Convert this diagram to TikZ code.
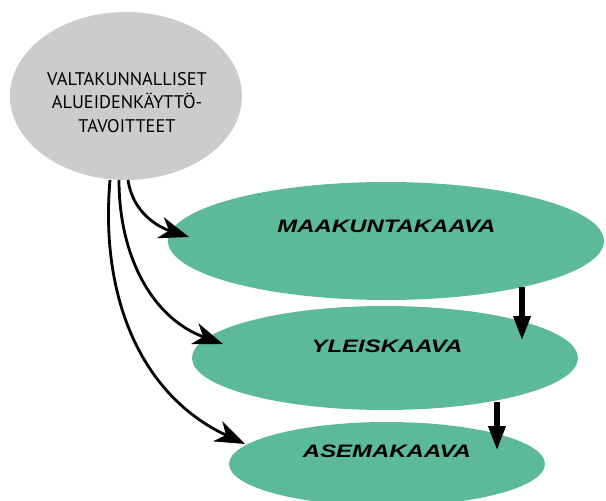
\documentclass[tikz,border=0pt]{standalone}
\usepackage{fontspec}
\setmainfont{Liberation Sans}
\newfontfamily\greyfont{PT Sans}
\usetikzlibrary{shapes.geometric,arrows.meta}
\definecolor{plangreen}{HTML}{5CBA98}
\definecolor{goalgrey}{HTML}{CCCCCC}
\tikzset{
  greenell/.style={ellipse,fill=plangreen,draw=none,inner sep=0pt},
  greyell/.style={ellipse,fill=goalgrey,draw=none,inner sep=0pt},
  plantext/.style={font=\fontsize{18}{18}\selectfont\bfseries\itshape,inner sep=0pt},
  goaltext/.style={font=\greyfont\fontsize{18.3}{23.5}\selectfont,align=center,inner sep=0pt},
  curvearrow/.style={line width=2.8pt,-{Stealth[length=30pt,width=22pt,inset=9pt]}},
  downarrow/.style={line width=6.5pt,-{Triangle[length=25pt,width=16pt]}}
}
\begin{document}
\begin{tikzpicture}[x=1pt,y=-1pt]
\useasboundingbox (0,0) rectangle (606,501);
\node[greyell,minimum width=232pt,minimum height=168pt] (g) at (126,96) {};
\node[goaltext] (gt) at (127,102.5) {VALTAKUNNALLISET\\ALUEIDENKÄYTTÖ-\\TAVOITTEET};
\node[greenell,minimum width=436pt,minimum height=118pt] (m) at (386,241) {};
\node[greenell,minimum width=386pt,minimum height=104pt] (y) at (385,358) {};
\node[greenell,minimum width=316pt,minimum height=84pt] (a) at (387,464) {};
\node[plantext] (mt) at (386.5,226.5) {\scalebox{1.33}[1]{MAAKUNTAKAAVA}};
\node[plantext] (yt) at (387,346) {\scalebox{1.33}[1]{YLEISKAAVA}};
\node[plantext] (at) at (387,451) {\scalebox{1.33}[1]{ASEMAKAAVA}};
\coordinate (s1) at (128,180);
\coordinate (s2) at (119,180);
\coordinate (s3) at (110,180);
\coordinate (e1) at (189,237);
\coordinate (e2) at (223,344);
\coordinate (e3) at (245,444);
\draw[curvearrow] (s1) to[out=-82,in=162] (e1);
\draw[curvearrow] (s2) to[out=-90,in=160] (e2);
\draw[curvearrow] (s3) to[out=-95,in=155] (e3);
\coordinate (d1s) at (522,287);
\coordinate (d1e) at (522,341);
\coordinate (d2s) at (497,402);
\coordinate (d2e) at (497,451);
\draw[downarrow] (d1s) -- (d1e);
\draw[downarrow] (d2s) -- (d2e);
\end{tikzpicture}
\end{document}
